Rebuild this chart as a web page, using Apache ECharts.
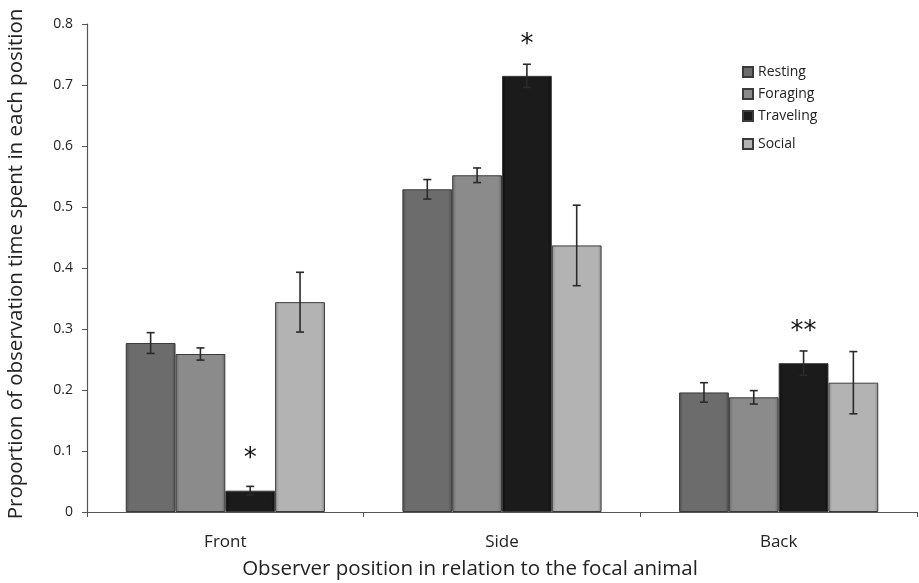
<!DOCTYPE html>
<html>
<head>
<meta charset="utf-8">
<script src="https://cdn.jsdelivr.net/npm/echarts@6/dist/echarts.min.js"></script>
<style>html,body{margin:0;padding:0;background:#fff;}#c{width:919px;height:583px;}</style>
</head>
<body>
<div id="c"></div>
<script>
var categories = ['Front', 'Side', 'Back'];
var activities = ['Resting', 'Foraging', 'Traveling', 'Social'];
var resting = [0.277, 0.529, 0.196];
var foraging = [0.259, 0.552, 0.188];
var traveling = [0.035, 0.715, 0.244];
var social = [0.344, 0.437, 0.212];
var restingErr = [0.017, 0.016, 0.016];
var foragingErr = [0.010, 0.012, 0.011];
var travelingErr = [0.007, 0.019, 0.020];
var socialErr = [0.049, 0.066, 0.051];
var travelingSig = ['*', '*', '**'];
var yTicks = [0, 0.1, 0.2, 0.3, 0.4, 0.5, 0.6, 0.7, 0.8];

var values = [resting, foraging, traveling, social];
var errs = [restingErr, foragingErr, travelingErr, socialErr];
var baseColors = ['#6c6c6c', '#8b8b8b', '#1b1b1b', '#b3b3b3'];
var edgeColors = ['#505050', '#6a6a6a', '#0c0c0c', '#8e8e8e'];
var CAT_GAP = 0.28;
var FONT = '"Open Sans", sans-serif';

function grad(i) {
  return new echarts.graphic.LinearGradient(0, 0, 1, 0, [
    {offset: 0, color: edgeColors[i]},
    {offset: 0.08, color: baseColors[i]},
    {offset: 0.92, color: baseColors[i]},
    {offset: 1, color: edgeColors[i]}
  ]);
}

var series = [];
activities.forEach(function (name, i) {
  series.push({
    name: name,
    type: 'bar',
    barGap: '0%',
    barCategoryGap: (CAT_GAP * 100) + '%',
    data: values[i].map(function (v, k) {
      var item = {value: v};
      if (i === 2) {
        item.label = {
          show: true, position: 'top', distance: 18,
          formatter: travelingSig[k], fontSize: 26, color: '#111',
          fontFamily: 'DejaVu Sans', letterSpacing: 2
        };
      }
      return item;
    }),
    itemStyle: {color: grad(i), borderColor: '#3a3a3a', borderWidth: 1}
  });
});
activities.forEach(function (name, i) {
  series.push({
    type: 'custom',
    name: name + ' error',
    z: 10,
    silent: true,
    data: values[i].map(function (v, k) { return [k, v - errs[i][k], v + errs[i][k]]; }),
    renderItem: function (params, api) {
      var k = api.value(0);
      var lo = api.coord([k, api.value(1)]);
      var hi = api.coord([k, api.value(2)]);
      var bw = api.size([1, 0])[0];
      var barW = bw * (1 - CAT_GAP) / 4;
      var x = lo[0] - bw * (1 - CAT_GAP) / 2 + barW * (i + 0.5);
      var cap = 4;
      var st = {stroke: '#2a2a2a', lineWidth: 1.6};
      return {type: 'group', children: [
        {type: 'line', shape: {x1: x, y1: lo[1], x2: x, y2: hi[1]}, style: st},
        {type: 'line', shape: {x1: x - cap, y1: lo[1], x2: x + cap, y2: lo[1]}, style: st},
        {type: 'line', shape: {x1: x - cap, y1: hi[1], x2: x + cap, y2: hi[1]}, style: st}
      ]};
    }
  });
});

var legendText = {fontSize: 14, color: '#222', lineHeight: 14, fontFamily: FONT};
var chart = echarts.init(document.getElementById('c'), null, {renderer: 'canvas'});
chart.setOption({
  animation: false,
  backgroundColor: '#fff',
  textStyle: {fontFamily: FONT},
  grid: {left: 87, right: 2, top: 24, bottom: 71, containLabel: false, outerBoundsMode: 'none'},
  legend: [
    {data: activities.slice(0, 3), orient: 'vertical', left: 737, top: 60, itemWidth: 10, itemHeight: 10,
      icon: 'rect', itemGap: 8, textStyle: legendText},
    {data: activities.slice(3), orient: 'vertical', left: 737, top: 132, itemWidth: 10, itemHeight: 10,
      icon: 'rect', textStyle: legendText}
  ],
  xAxis: {
    type: 'category',
    data: categories,
    axisLine: {lineStyle: {color: '#555', width: 1.2}},
    axisTick: {show: true, length: 5, lineStyle: {color: '#555'}},
    axisLabel: {fontSize: 17, color: '#222', margin: 22, fontFamily: FONT},
    name: 'Observer position in relation to the focal animal',
    nameLocation: 'middle',
    nameGap: 47,
    nameTextStyle: {fontSize: 20.5, color: '#222', fontFamily: FONT, padding: [0, 64, 0, 0]}
  },
  yAxis: {
    type: 'value',
    min: 0, max: 0.8, interval: 0.1,
    axisLine: {show: true, lineStyle: {color: '#555', width: 1.2}},
    axisTick: {show: true, length: 5, inside: false, lineStyle: {color: '#555'}},
    splitLine: {show: false},
    axisLabel: {fontSize: 14, color: '#222', margin: 14, fontFamily: FONT,
      formatter: function (v) { var t = yTicks.find(function (y) { return Math.abs(y - v) < 1e-9; }); return t === 0 ? '0' : String(t); }},
    name: 'Proportion of observation time spent in each position',
    nameLocation: 'middle',
    nameGap: 60,
    nameTextStyle: {fontSize: 20.5, color: '#222', fontFamily: FONT, padding: [0, 0, 0, 8]}
  },
  series: series
});
</script>
</body>
</html>
